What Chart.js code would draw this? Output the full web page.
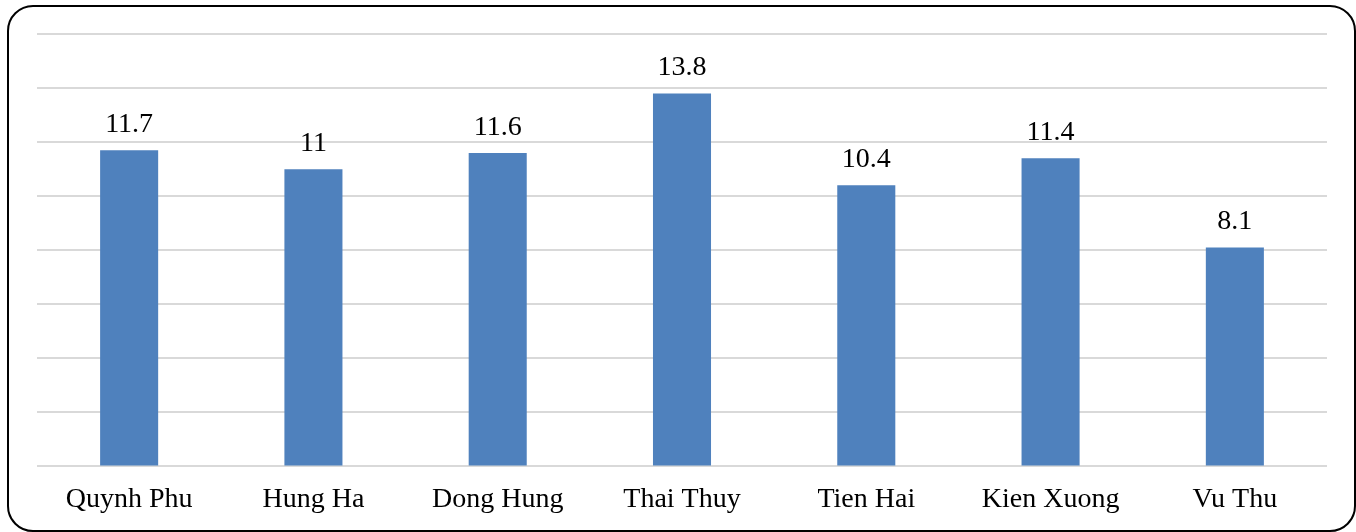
<!DOCTYPE html>
<html>
<head>
<meta charset="utf-8">
<script src="https://cdn.jsdelivr.net/npm/chart.js@4/dist/chart.umd.min.js"></script>
<style>
  html, body { margin: 0; padding: 0; background: #fff; }
  #wrap { position: relative; width: 1356px; height: 532px; }
  #frame { position: absolute; left: 7px; top: 5px; width: 1345px; height: 523px;
           border: 2px solid #000; border-radius: 26px; pointer-events: none; }
  canvas { position: absolute; left: 0; top: 0; }
</style>
</head>
<body>
<div id="wrap">
  <canvas id="barChart" width="1356" height="532"></canvas>
  <div id="frame"></div>
</div>
<script>
// districts and their values
var districts = ["Quynh Phu", "Hung Ha", "Dong Hung", "Thai Thuy", "Tien Hai", "Kien Xuong", "Vu Thu"];
var values = [11.7, 11, 11.6, 13.8, 10.4, 11.4, 8.1];

var serif = "'Liberation Serif', 'Times New Roman', serif";

// draws the number above each bar
var valueLabels = {
  id: "valueLabels",
  afterDatasetsDraw: function(chart) {
    var ctx = chart.ctx;
    var meta = chart.getDatasetMeta(0);
    ctx.save();
    ctx.font = "28px " + serif;
    ctx.fillStyle = "#000";
    ctx.textAlign = "center";
    ctx.textBaseline = "alphabetic";
    meta.data.forEach(function(bar, i) {
      ctx.fillText(String(values[i]), bar.x, bar.y - 18);
    });
    ctx.restore();
  }
};

new Chart("barChart", {
  type: "bar",
  data: {
    labels: districts,
    datasets: [{
      data: values,
      backgroundColor: "#4f81bd",
      barPercentage: 0.315,
      categoryPercentage: 1
    }]
  },
  options: {
    responsive: false,
    animation: false,
    layout: { padding: { left: 37, right: 29, top: 34, bottom: 0 } },
    plugins: { legend: { display: false }, tooltip: { enabled: false } },
    scales: {
      x: {
        grid: { display: false, drawTicks: false },
        border: { display: false },
        ticks: { color: "#000", font: { family: serif, size: 28 }, padding: 16 }
      },
      y: {
        min: 0, max: 16,
        ticks: { display: false, stepSize: 2 },
        border: { display: false },
        grid: { color: "#d9d9d9", lineWidth: 2, drawTicks: false }
      }
    }
  },
  plugins: [valueLabels]
});
</script>
</body>
</html>
